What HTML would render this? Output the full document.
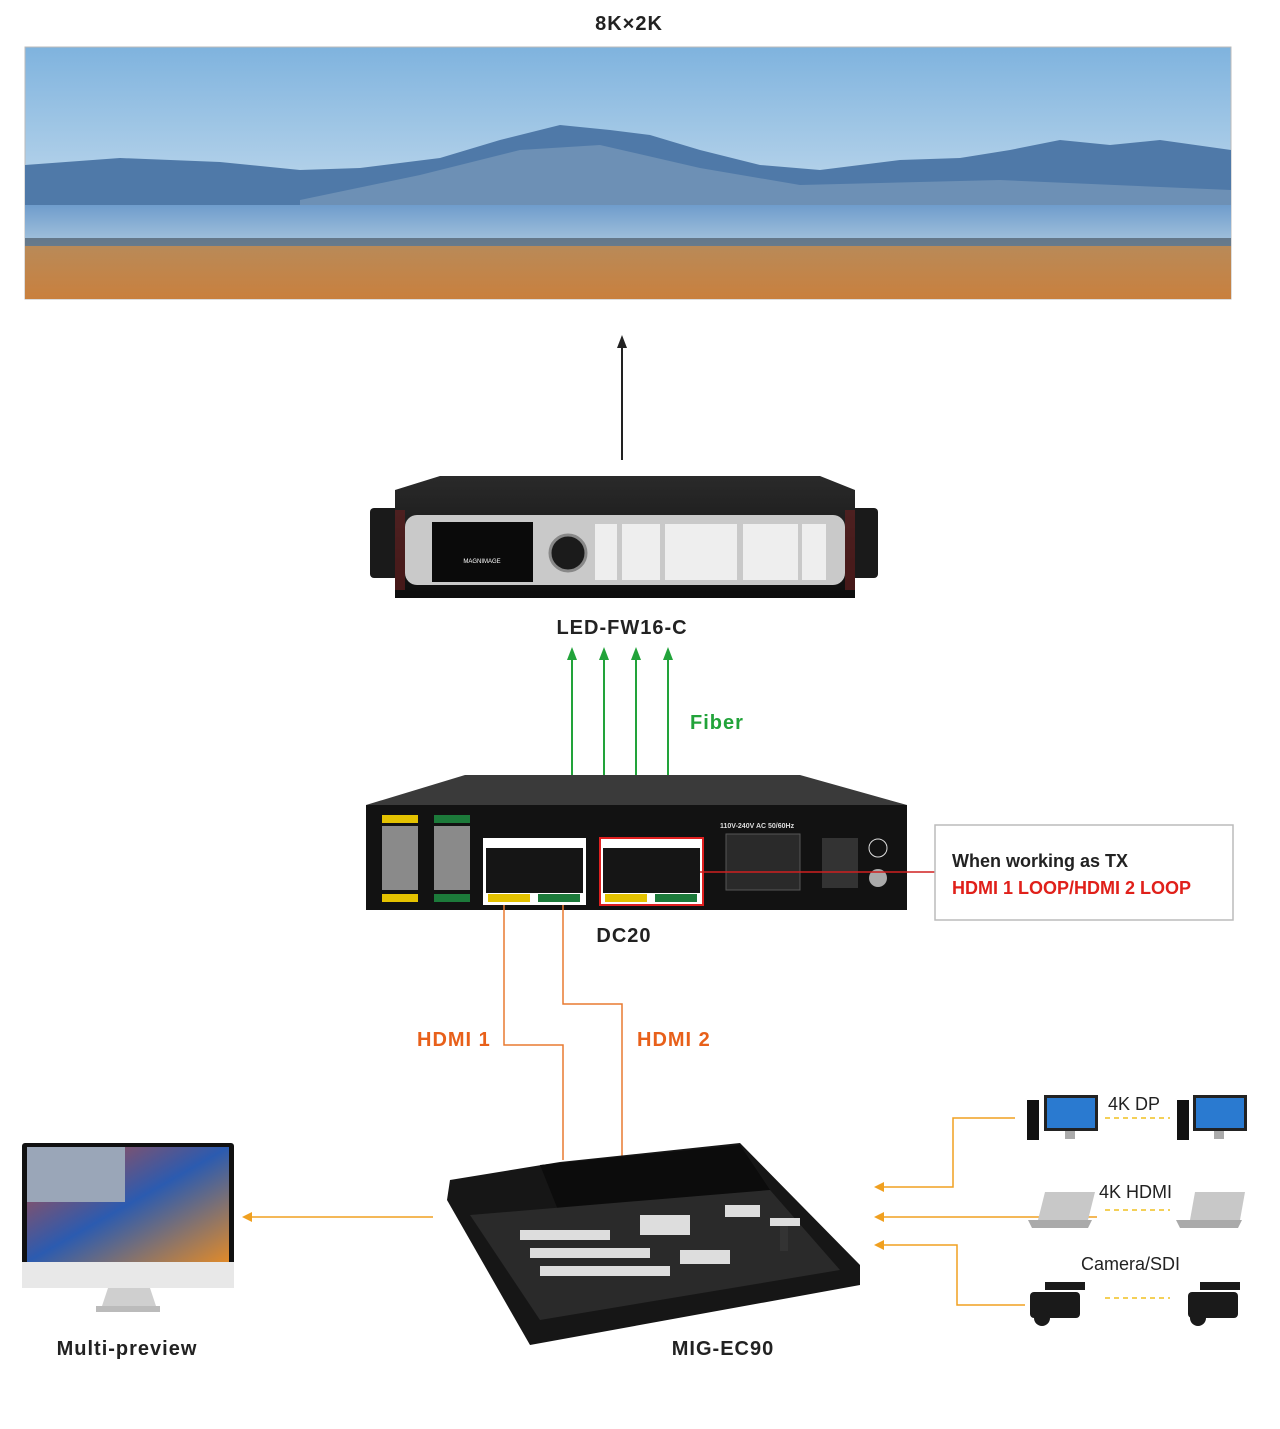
<!DOCTYPE html>
<html><head><meta charset="utf-8"><style>
body{margin:0;background:#fff;width:1280px;height:1424px;overflow:hidden;font-family:"Liberation Sans",sans-serif}
</style></head><body>
<svg width="1280" height="1424" viewBox="0 0 1280 1424" xmlns="http://www.w3.org/2000/svg" font-family="Liberation Sans, sans-serif">
<defs>
<linearGradient id="sky" x1="0" y1="0" x2="0" y2="1"><stop offset="0" stop-color="#7fb3de"/><stop offset="1" stop-color="#e4eef4"/></linearGradient>
<linearGradient id="water" x1="0" y1="0" x2="0" y2="1"><stop offset="0" stop-color="#6f9ccc"/><stop offset="1" stop-color="#a9c6de"/></linearGradient>
<linearGradient id="grass" x1="0" y1="0" x2="0" y2="1"><stop offset="0" stop-color="#b98a58"/><stop offset="1" stop-color="#c9803e"/></linearGradient>
<linearGradient id="dev" x1="0" y1="0" x2="0" y2="1"><stop offset="0" stop-color="#2a2a2a"/><stop offset="1" stop-color="#0d0d0d"/></linearGradient>
<linearGradient id="scr" x1="0" y1="0" x2="1" y2="1"><stop offset="0" stop-color="#c24a3a"/><stop offset=".5" stop-color="#2b5bb0"/><stop offset="1" stop-color="#e08a2a"/></linearGradient>
</defs>
<text x="629" y="30" font-size="20" font-weight="bold" text-anchor="middle" fill="#222" letter-spacing="1">8K×2K</text>
<rect x="25" y="47" width="1206" height="252" fill="url(#sky)" stroke="#bbb"/>
<path d="M25,165 L120,158 L220,162 L300,170 L360,168 L440,158 L500,140 L560,125 L610,130 L650,135 L700,150 L760,165 L820,170 L900,160 L960,158 L1010,150 L1060,140 L1110,145 L1160,140 L1231,150 L1231,205 L25,205Z" fill="#4f79a8"/>
<path d="M300,200 L420,175 L520,150 L600,145 L700,168 L800,185 L1000,180 L1231,190 L1231,208 L300,208Z" fill="#6d90b5"/>
<rect x="25" y="205" width="1206" height="42" fill="url(#water)"/>
<rect x="25" y="238" width="1206" height="8" fill="#3d4a55" opacity=".6"/>
<rect x="25" y="246" width="1206" height="53" fill="url(#grass)"/>
<line x1="622" y1="460" x2="622" y2="345" stroke="#222" stroke-width="2"/>
<path d="M617,348 L622,335 L627,348Z" fill="#222"/>
<rect x="370" y="508" width="508" height="70" rx="4" fill="#1a1a1a"/>
<path d="M395,490 L440,476 L820,476 L855,490 L855,598 L395,598Z" fill="url(#dev)"/>
<rect x="405" y="515" width="440" height="70" rx="12" fill="#c9c9c9"/>
<rect x="432" y="522" width="101" height="60" fill="#0a0a0a"/>
<text x="482" y="563" font-size="6" fill="#fff" text-anchor="middle">MAGNIMAGE</text>
<circle cx="568" cy="553" r="18" fill="#1b1b1b" stroke="#888" stroke-width="3"/>
<rect x="595" y="524" width="22" height="56" fill="#eee"/>
<rect x="622" y="524" width="38" height="56" fill="#eee"/>
<rect x="665" y="524" width="72" height="56" fill="#eee"/>
<rect x="743" y="524" width="55" height="56" fill="#eee"/>
<rect x="802" y="524" width="24" height="56" fill="#eee"/>
<rect x="395" y="510" width="10" height="80" fill="#6a2020" opacity=".6"/>
<rect x="845" y="510" width="10" height="80" fill="#6a2020" opacity=".6"/>
<text x="622" y="634" font-size="20" font-weight="bold" text-anchor="middle" fill="#222" letter-spacing="1">LED-FW16-C</text>
<g stroke="#22a33a" stroke-width="2"><line x1="572" y1="793" x2="572" y2="652"/><line x1="604" y1="793" x2="604" y2="652"/><line x1="636" y1="793" x2="636" y2="652"/><line x1="668" y1="793" x2="668" y2="652"/></g>
<g fill="#22a33a"><path d="M567,660 L572,647 L577,660Z"/><path d="M599,660 L604,647 L609,660Z"/><path d="M631,660 L636,647 L641,660Z"/><path d="M663,660 L668,647 L673,660Z"/></g>
<text x="690" y="729" font-size="20" font-weight="bold" fill="#22a33a" letter-spacing="1">Fiber</text>
<path d="M366,805 L465,775 L800,775 L907,805 L907,810 L366,810Z" fill="#3a3a3a"/>
<rect x="366" y="805" width="541" height="105" fill="#121212"/>
<rect x="382" y="815" width="36" height="8" fill="#e4c200"/><rect x="434" y="815" width="36" height="8" fill="#1c7a3a"/>
<rect x="382" y="894" width="36" height="8" fill="#e4c200"/><rect x="434" y="894" width="36" height="8" fill="#1c7a3a"/>
<rect x="382" y="826" width="36" height="64" fill="#8a8a8a"/><rect x="434" y="826" width="36" height="64" fill="#8a8a8a"/>
<rect x="483" y="838" width="103" height="67" fill="#fff"/><rect x="486" y="848" width="97" height="45" fill="#151515"/>
<rect x="600" y="838" width="103" height="67" fill="#fff" stroke="#e02020" stroke-width="2"/><rect x="603" y="848" width="97" height="45" fill="#151515"/>
<rect x="488" y="894" width="42" height="8" fill="#e4c200"/><rect x="538" y="894" width="42" height="8" fill="#1c7a3a"/>
<rect x="605" y="894" width="42" height="8" fill="#e4c200"/><rect x="655" y="894" width="42" height="8" fill="#1c7a3a"/>
<rect x="726" y="834" width="74" height="56" fill="#2a2a2a" stroke="#555"/>
<rect x="822" y="838" width="36" height="50" fill="#333"/>
<circle cx="878" cy="848" r="9" fill="none" stroke="#ddd"/><circle cx="878" cy="878" r="9" fill="#aaa"/>
<text x="720" y="828" font-size="7" fill="#ddd" font-weight="bold">110V-240V AC 50/60Hz</text>
<line x1="700" y1="872" x2="935" y2="872" stroke="#d02020" stroke-width="1.5"/>
<text x="624" y="942" font-size="20" font-weight="bold" text-anchor="middle" fill="#222" letter-spacing="1">DC20</text>
<rect x="935" y="825" width="298" height="95" fill="#fff" stroke="#bbb" stroke-width="1.5"/>
<text x="952" y="867" font-size="18" font-weight="bold" fill="#222">When working as TX</text>
<text x="952" y="894" font-size="18" font-weight="bold" fill="#e0201a">HDMI 1 LOOP/HDMI 2 LOOP</text>
<g fill="none" stroke="#e87a30" stroke-width="1.5"><path d="M504,905 V1045 H563 V1160"/><path d="M563,905 V1004 H622 V1160"/></g>
<text x="417" y="1046" font-size="20" font-weight="bold" fill="#e8601a" letter-spacing="1">HDMI 1</text>
<text x="637" y="1046" font-size="20" font-weight="bold" fill="#e8601a" letter-spacing="1">HDMI 2</text>
<path d="M450,1180 L560,1162 L740,1143 L860,1265 L860,1285 L530,1345 L447,1200Z" fill="#161616"/>
<path d="M540,1165 L740,1145 L770,1190 L560,1215Z" fill="#0c0c0c"/>
<path d="M470,1215 L770,1190 L840,1270 L540,1320Z" fill="#2a2a2a"/>
<g fill="#ddd"><rect x="520" y="1230" width="90" height="10"/><rect x="530" y="1248" width="120" height="10"/><rect x="540" y="1266" width="130" height="10"/><rect x="640" y="1215" width="50" height="20"/><rect x="680" y="1250" width="50" height="14"/><rect x="725" y="1205" width="35" height="12"/></g>
<rect x="770" y="1218" width="30" height="8" fill="#ddd"/><rect x="780" y="1226" width="8" height="25" fill="#333"/>
<text x="723" y="1355" font-size="20" font-weight="bold" text-anchor="middle" fill="#222" letter-spacing="1">MIG-EC90</text>
<rect x="22" y="1143" width="212" height="132" rx="3" fill="#111"/>
<rect x="27" y="1147" width="202" height="115" fill="url(#scr)"/>
<rect x="27" y="1147" width="98" height="55" fill="#9aa6b8"/>
<rect x="22" y="1262" width="212" height="26" fill="#e8e8e8"/>
<path d="M108,1288 L150,1288 L156,1306 L102,1306Z" fill="#cfcfcf"/>
<rect x="96" y="1306" width="64" height="6" fill="#bbb"/>
<text x="127" y="1355" font-size="20" font-weight="bold" text-anchor="middle" fill="#222" letter-spacing="1">Multi-preview</text>
<line x1="433" y1="1217" x2="250" y2="1217" stroke="#f0a020" stroke-width="1.5"/>
<path d="M252,1212 L242,1217 L252,1222Z" fill="#f0a020"/>
<g fill="none" stroke="#f0a020" stroke-width="1.5"><path d="M1015,1118 H953 V1187 H882"/><path d="M1097,1217 H882"/><path d="M1025,1305 H957 V1245 H882"/></g>
<g fill="#f0a020"><path d="M884,1182 L874,1187 L884,1192Z"/><path d="M884,1212 L874,1217 L884,1222Z"/><path d="M884,1240 L874,1245 L884,1250Z"/></g>
<g stroke="#f0c020" stroke-width="1.5" stroke-dasharray="5,4"><line x1="1105" y1="1118" x2="1170" y2="1118"/><line x1="1105" y1="1210" x2="1170" y2="1210"/><line x1="1105" y1="1298" x2="1170" y2="1298"/></g>
<g><rect x="1027" y="1100" width="12" height="40" fill="#111"/><rect x="1044" y="1095" width="54" height="36" fill="#222"/><rect x="1047" y="1098" width="48" height="30" fill="#2a7ad0"/><rect x="1065" y="1131" width="10" height="8" fill="#aaa"/></g>
<g><rect x="1177" y="1100" width="12" height="40" fill="#111"/><rect x="1193" y="1095" width="54" height="36" fill="#222"/><rect x="1196" y="1098" width="48" height="30" fill="#2a7ad0"/><rect x="1214" y="1131" width="10" height="8" fill="#aaa"/></g>
<text x="1108" y="1110" font-size="18" fill="#222">4K DP</text>
<path d="M1045,1192 L1095,1192 L1088,1220 L1038,1220Z" fill="#c8c8c8"/><path d="M1028,1220 L1092,1220 L1088,1228 L1032,1228Z" fill="#aaa"/>
<path d="M1195,1192 L1245,1192 L1240,1220 L1190,1220Z" fill="#c8c8c8"/><path d="M1176,1220 L1242,1220 L1238,1228 L1180,1228Z" fill="#aaa"/>
<text x="1099" y="1198" font-size="18" fill="#222">4K HDMI</text>
<text x="1081" y="1270" font-size="18" fill="#222">Camera/SDI</text>
<g fill="#1a1a1a"><rect x="1030" y="1292" width="50" height="26" rx="4"/><circle cx="1042" cy="1318" r="8"/><rect x="1045" y="1282" width="40" height="8"/></g>
<g fill="#1a1a1a"><rect x="1188" y="1292" width="50" height="26" rx="4"/><circle cx="1198" cy="1318" r="8"/><rect x="1200" y="1282" width="40" height="8"/></g>
</svg>
</body></html>
